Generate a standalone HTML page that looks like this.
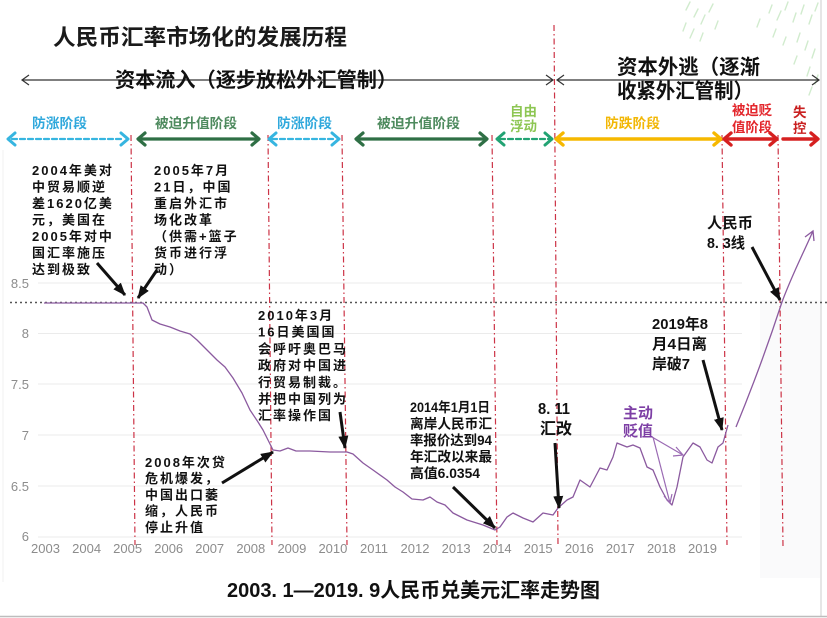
<!DOCTYPE html>
<html><head><meta charset="utf-8"><style>
html,body{margin:0;padding:0;background:#fff;}
svg{display:block;}
.a{font-family:"Liberation Sans","Noto Sans CJK SC",sans-serif;font-weight:bold;}
</style></head><body>
<svg width="827" height="618" viewBox="0 0 827 618" xmlns="http://www.w3.org/2000/svg" class="a">
<defs>
<marker id="ah" markerUnits="userSpaceOnUse" markerWidth="14" markerHeight="12" refX="12" refY="5" orient="auto">
<path d="M0,0 L13,5 L0,10 z" fill="#111"/>
</marker>
</defs>
<rect width="827" height="618" fill="#fff"/>
<rect x="760" y="300" width="60" height="278" fill="#fafafb"/>
<line x1="821" y1="0" x2="821" y2="617" stroke="#d6d6d6" stroke-width="1.2"/>
<line x1="0" y1="616.5" x2="827" y2="616.5" stroke="#bdbdbd" stroke-width="1.5"/>
<line x1="3" y1="150" x2="3" y2="582" stroke="#f0f0f0" stroke-width="1"/>

<!-- willow leaves -->
<g stroke="#b4dfae" stroke-width="1.4" opacity="0.6" stroke-linecap="round">
<line x1="690" y1="2" x2="686" y2="10"/><line x1="698" y1="9" x2="694" y2="17"/><line x1="705" y1="15" x2="701" y2="24"/>
<line x1="713" y1="4" x2="709" y2="12"/><line x1="694" y1="29" x2="690" y2="38"/><line x1="703" y1="33" x2="700" y2="41"/>
<line x1="718" y1="21" x2="715" y2="29"/><line x1="686" y1="23" x2="683" y2="31"/>
<line x1="772" y1="5" x2="769" y2="13"/><line x1="781" y1="11" x2="777" y2="20"/><line x1="788" y1="2" x2="785" y2="10"/>
<line x1="796" y1="13" x2="793" y2="22"/><line x1="804" y1="5" x2="801" y2="14"/><line x1="812" y1="15" x2="809" y2="24"/>
<line x1="818" y1="3" x2="815" y2="11"/><line x1="776" y1="29" x2="773" y2="37"/><line x1="800" y1="33" x2="797" y2="42"/>
<line x1="808" y1="41" x2="805" y2="50"/><line x1="815" y1="49" x2="812" y2="58"/><line x1="797" y1="56" x2="794" y2="64"/>
<line x1="810" y1="67" x2="807" y2="76"/><line x1="818" y1="75" x2="815" y2="84"/><line x1="812" y1="87" x2="809" y2="95"/>
<line x1="786" y1="37" x2="783" y2="45"/><line x1="760" y1="19" x2="757" y2="27"/>
</g>

<!-- gridlines -->
<g stroke="#ebebeb" stroke-width="1">
<line x1="38" y1="283" x2="742" y2="283"/><line x1="38" y1="333.5" x2="742" y2="333.5"/>
<line x1="38" y1="384" x2="742" y2="384"/><line x1="38" y1="435" x2="742" y2="435"/>
<line x1="38" y1="486" x2="742" y2="486"/><line x1="38" y1="537" x2="742" y2="537"/>
</g>

<!-- y labels -->
<g font-weight="normal" font-size="13" fill="#8c8c8c" text-anchor="end">
<text x="29" y="288">8.5</text><text x="29" y="338">8</text><text x="29" y="389">7.5</text>
<text x="29" y="440">7</text><text x="29" y="491">6.5</text><text x="29" y="541">6</text>
</g>
<!-- x labels -->
<g font-weight="normal" font-size="13" fill="#8c8c8c" text-anchor="middle">
<text x="45.5" y="553">2003</text><text x="86.6" y="553">2004</text><text x="127.6" y="553">2005</text>
<text x="168.7" y="553">2006</text><text x="209.7" y="553">2007</text><text x="250.8" y="553">2008</text>
<text x="291.9" y="553">2009</text><text x="332.9" y="553">2010</text><text x="374" y="553">2011</text>
<text x="415" y="553">2012</text><text x="456.1" y="553">2013</text><text x="497.2" y="553">2014</text>
<text x="538.2" y="553">2015</text><text x="579.3" y="553">2016</text><text x="620.3" y="553">2017</text>
<text x="661.4" y="553">2018</text><text x="702.5" y="553">2019</text>
</g>

<!-- vertical dash-dot lines -->
<g stroke="#cc3346" stroke-width="1.2" stroke-dasharray="6,3,1.5,3" fill="none">
<line x1="131" y1="135" x2="135" y2="545"/>
<line x1="268" y1="135" x2="272" y2="545"/>
<line x1="342" y1="135" x2="347" y2="545"/>
<line x1="492" y1="135" x2="497" y2="545"/>
<line x1="554" y1="25" x2="558" y2="545"/>
<line x1="722" y1="135" x2="727" y2="545"/>
<line x1="778" y1="135" x2="783" y2="547"/>
</g>

<!-- 8.3 dotted -->
<line x1="10" y1="302.5" x2="827" y2="302.5" stroke="#555" stroke-width="1.6" stroke-dasharray="2,3"/>

<!-- series -->
<polyline fill="none" stroke="#8b5a9f" stroke-width="1.3" stroke-linejoin="round" points="44,303 143,303 147,307 152,320 160,324 170,327 180,331 190,334 197,340 205,348 217,360 225,367 233,378 242,393 250,410 258,422 263,430 268,440 273,450 280,451 288,448 296,451 310,451 330,452 347,452 353,454 363,463 373,470 387,480 395,487 403,492 412,499 423,500 430,497 437,502 445,505 453,513 467,520 483,525 495,530 500,527 507,517 513,513 523,518 533,522 543,513 553,515 558,508 567,500 573,497 580,480 590,487 600,468 607,470 613,457 617,443 627,447 633,445 640,448 647,467 653,470 660,487 667,500 672,505 677,487 683,457 693,443 700,447 707,460 712,463 718,447 723,443 728,425"/>
<path d="M736,427 C752,388 768,345 782,302 C792,275 802,256 813,231" fill="none" stroke="#8b5a9f" stroke-width="1.3"/>
<polyline points="805,237 813,231 814,241" fill="none" stroke="#8b5a9f" stroke-width="1.3"/>

<!-- 主动贬值 arrows -->
<g stroke="#9a6ab3" stroke-width="1.2" fill="none">
<line x1="652" y1="437" x2="683" y2="455"/>
<polyline points="676,447 683,455 673,456"/>
<line x1="653" y1="437" x2="670" y2="503"/>
<polyline points="664,496 670,503 672,494"/>
</g>

<!-- Title -->
<text x="53" y="45" font-size="22" fill="#1a1a1a" textLength="294" lengthAdjust="spacingAndGlyphs">人民币汇率市场化的发展历程</text>

<!-- row 2 arrows -->
<g stroke="#333" stroke-width="1.2" fill="none">
<line x1="22" y1="80" x2="553" y2="80"/>
<polyline points="29,75 22,80 29,85"/>
<polyline points="546,75 553,80 546,85"/>
<line x1="557" y1="80" x2="819" y2="80"/>
<polyline points="564,75 557,80 564,85"/>
<polyline points="812,75 819,80 812,85"/>
</g>
<text x="115" y="87" font-size="20.5" fill="#111" textLength="282" lengthAdjust="spacingAndGlyphs">资本流入（逐步放松外汇管制）</text>
<text x="617" y="74" font-size="20.5" fill="#111" textLength="143" lengthAdjust="spacingAndGlyphs">资本外逃（逐渐</text>
<text x="617" y="98" font-size="20.5" fill="#111" textLength="136" lengthAdjust="spacingAndGlyphs">收紧外汇管制）</text>

<!-- phase labels -->
<g font-size="13.5">
<text x="32" y="128" fill="#2fa8dc" textLength="55" lengthAdjust="spacingAndGlyphs">防涨阶段</text>
<text x="155" y="128" fill="#4e8a5e" textLength="82" lengthAdjust="spacingAndGlyphs">被迫升值阶段</text>
<text x="277" y="128" fill="#2fa8dc" textLength="55" lengthAdjust="spacingAndGlyphs">防涨阶段</text>
<text x="377" y="128" fill="#4e8a5e" textLength="83" lengthAdjust="spacingAndGlyphs">被迫升值阶段</text>
<text x="510" y="116" fill="#8dc653" textLength="27" lengthAdjust="spacingAndGlyphs">自由</text>
<text x="510" y="131" fill="#8dc653" textLength="27" lengthAdjust="spacingAndGlyphs">浮动</text>
<text x="605" y="128" fill="#f2b705" textLength="55" lengthAdjust="spacingAndGlyphs">防跌阶段</text>
<text x="732" y="115" fill="#e3262b" textLength="40" lengthAdjust="spacingAndGlyphs">被迫贬</text>
<text x="732" y="132" fill="#e3262b" textLength="40" lengthAdjust="spacingAndGlyphs">值阶段</text>
<text x="793" y="117" fill="#c92020">失</text>
<text x="793" y="133" fill="#c92020">控</text>
</g>

<!-- phase arrows -->
<g fill="none" stroke-linecap="round" stroke-linejoin="round">
<line x1="12" y1="139" x2="124" y2="139" stroke="#36b5e0" stroke-width="2.2" stroke-dasharray="5,3"/>
<polyline points="15,133 8,139 15,145" stroke="#36b5e0" stroke-width="3"/>
<polyline points="121,133 128,139 121,145" stroke="#36b5e0" stroke-width="3"/>
<line x1="139" y1="139" x2="258" y2="139" stroke="#2f6f45" stroke-width="3.2"/>
<polyline points="145,133 138,139 145,145" stroke="#2f6f45" stroke-width="3.2"/>
<polyline points="252,133 259,139 252,145" stroke="#2f6f45" stroke-width="3.2"/>
<line x1="272" y1="139" x2="336" y2="139" stroke="#36b5e0" stroke-width="2.2" stroke-dasharray="5,3"/>
<polyline points="276,133 269,139 276,145" stroke="#36b5e0" stroke-width="3"/>
<polyline points="332,133 339,139 332,145" stroke="#36b5e0" stroke-width="3"/>
<line x1="357" y1="139" x2="486" y2="139" stroke="#2f6f45" stroke-width="3.2"/>
<polyline points="363,133 356,139 363,145" stroke="#2f6f45" stroke-width="3.2"/>
<polyline points="480,133 487,139 480,145" stroke="#2f6f45" stroke-width="3.2"/>
<line x1="500" y1="139" x2="549" y2="139" stroke="#22a373" stroke-width="2.2" stroke-dasharray="5,3"/>
<polyline points="504,133 497,139 504,145" stroke="#22a373" stroke-width="3"/>
<polyline points="545,133 552,139 545,145" stroke="#22a373" stroke-width="3"/>
<line x1="558" y1="139" x2="720" y2="139" stroke="#f6b800" stroke-width="3.4"/>
<polyline points="563,133 556,139 563,145" stroke="#f6b800" stroke-width="3.4"/>
<polyline points="714,133 721,139 714,145" stroke="#f6b800" stroke-width="3.4"/>
<line x1="725" y1="139" x2="776" y2="139" stroke="#d62020" stroke-width="3.4"/>
<polyline points="731,133 724,139 731,145" stroke="#d62020" stroke-width="3.4"/>
<polyline points="770,133 777,139 770,145" stroke="#d62020" stroke-width="3.4"/>
<line x1="783" y1="139" x2="817" y2="139" stroke="#d62020" stroke-width="3.4"/>
<polyline points="811,133 818,139 811,145" stroke="#d62020" stroke-width="3.4"/>
</g>

<!-- annotation texts -->
<g font-size="13" fill="#111" letter-spacing="2">
<text x="32" y="175">2004年美对</text>
<text x="32" y="191.5">中贸易顺逆</text>
<text x="32" y="208">差1620亿美</text>
<text x="32" y="224.5">元，美国在</text>
<text x="32" y="241">2005年对中</text>
<text x="32" y="257.5">国汇率施压</text>
<text x="32" y="274">达到极致</text>

<text x="154" y="175">2005年7月</text>
<text x="154" y="191.5">21日，中国</text>
<text x="154" y="208">重启外汇市</text>
<text x="154" y="224.5">场化改革</text>
<text x="154" y="241">（供需+篮子</text>
<text x="154" y="257.5">货币进行浮</text>
<text x="154" y="274">动）</text>

<text x="258" y="320">2010年3月</text>
<text x="258" y="336.7">16日美国国</text>
<text x="258" y="353.4">会呼吁奥巴马</text>
<text x="258" y="370.1">政府对中国进</text>
<text x="258" y="386.8">行贸易制裁。</text>
<text x="258" y="403.5">并把中国列为</text>
<text x="258" y="420.2">汇率操作国</text>

<text x="145" y="467">2008年次贷</text>
<text x="145" y="483.2">危机爆发，</text>
<text x="145" y="499.4">中国出口萎</text>
<text x="145" y="515.6">缩，人民币</text>
<text x="145" y="531.8">停止升值</text>
</g>

<g font-size="13.7" fill="#111">
<text x="410" y="412" textLength="80" lengthAdjust="spacingAndGlyphs">2014年1月1日</text>
<text x="410" y="428.5" textLength="82" lengthAdjust="spacingAndGlyphs">离岸人民币汇</text>
<text x="410" y="445" textLength="82" lengthAdjust="spacingAndGlyphs">率报价达到94</text>
<text x="410" y="461.5" textLength="82" lengthAdjust="spacingAndGlyphs">年汇改以来最</text>
<text x="410" y="478" textLength="70" lengthAdjust="spacingAndGlyphs">高值6.0354</text>
</g>

<g font-size="16" fill="#111">
<text x="538" y="414" textLength="32" lengthAdjust="spacingAndGlyphs">8. 11</text>
<text x="540" y="434" textLength="32" lengthAdjust="spacingAndGlyphs">汇改</text>
</g>
<g font-size="15" fill="#111">
<text x="652" y="329" textLength="56" lengthAdjust="spacingAndGlyphs">2019年8</text>
<text x="652" y="349" textLength="55" lengthAdjust="spacingAndGlyphs">月4日离</text>
<text x="652" y="369" textLength="38" lengthAdjust="spacingAndGlyphs">岸破7</text>
<text x="707" y="228" textLength="46" lengthAdjust="spacingAndGlyphs">人民币</text>
<text x="707" y="248" textLength="38" lengthAdjust="spacingAndGlyphs">8. 3线</text>
</g>
<g font-size="15" fill="#7d3fa5">
<text x="623" y="418" textLength="30" lengthAdjust="spacingAndGlyphs">主动</text>
<text x="623" y="436" textLength="30" lengthAdjust="spacingAndGlyphs">贬值</text>
</g>

<!-- black arrows -->
<g stroke="#111" stroke-width="3" marker-end="url(#ah)">
<line x1="97" y1="263" x2="125" y2="295"/>
<line x1="157" y1="270" x2="138" y2="298"/>
<line x1="340" y1="412" x2="345" y2="448"/>
<line x1="222" y1="483" x2="273" y2="452"/>
<line x1="453" y1="487" x2="495" y2="528"/>
<line x1="555" y1="443" x2="559" y2="508"/>
<line x1="703" y1="360" x2="722" y2="430"/>
<line x1="752" y1="247" x2="780" y2="300"/>
</g>

<!-- caption -->
<text x="227" y="597" font-size="20" fill="#111" textLength="373" lengthAdjust="spacingAndGlyphs">2003. 1—2019. 9人民币兑美元汇率走势图</text>
</svg>
</body></html>
